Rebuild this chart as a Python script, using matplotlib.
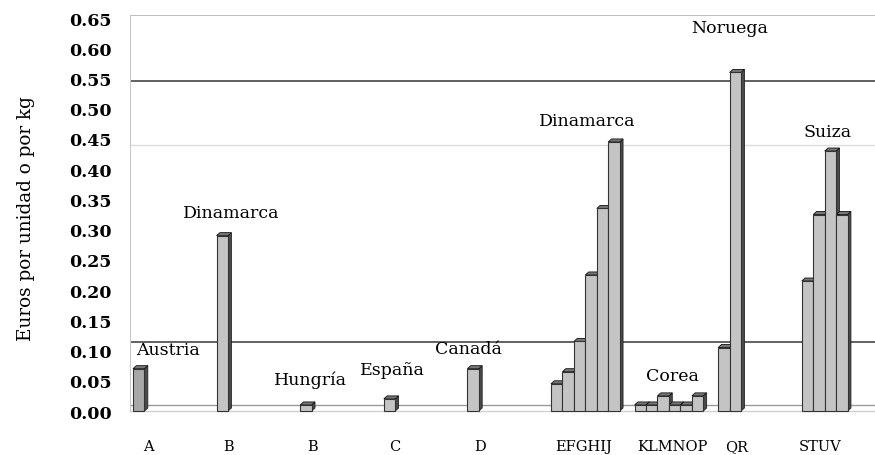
import matplotlib
matplotlib.use("Agg")
import matplotlib.pyplot as plt
from matplotlib.patches import Polygon

# ---- data ----
group_labels = ["A", "B", "B", "C", "D", "EFGHIJ", "KLMNOP", "QR", "STUV"]
countries = ["Austria", "Dinamarca", "Hungría", "España", "Canadá",
             "Dinamarca", "Corea", "Noruega", "Suiza"]
vals_A = [0.07]
vals_B1 = [0.29]
vals_B2 = [0.01]
vals_C = [0.02]
vals_D = [0.07]
vals_EFGHIJ = [0.045, 0.065, 0.115, 0.225, 0.335, 0.445]
vals_KLMNOP = [0.01, 0.01, 0.025, 0.01, 0.01, 0.025]
vals_QR = [0.105, 0.56]
vals_STUV = [0.215, 0.325, 0.43, 0.325]
groups = [vals_A, vals_B1, vals_B2, vals_C, vals_D,
          vals_EFGHIJ, vals_KLMNOP, vals_QR, vals_STUV]
yticks = [0.00, 0.05, 0.10, 0.15, 0.20, 0.25, 0.30, 0.35, 0.40,
          0.45, 0.50, 0.55, 0.60, 0.65]

# ---- layout ----
label_pos = [(0.42, 0.101), (1.17, 0.329), (2.12, 0.053), (3.10, 0.069),
             (4.01, 0.104), (5.43, 0.48), (6.45, 0.058), (7.14, 0.635),
             (8.31, 0.463)]
xtick_pos = [0.18, 1.14, 2.15, 3.13, 4.15, 5.39, 6.45, 7.22, 8.22]
bw = 0.137
dx, dy = 0.04, 0.005

W, H = 875, 456
fig = plt.figure(figsize=(W / 100, H / 100), dpi=100)
ax = fig.add_axes([130 / W, 1 - 418 / H, 745 / W, 402 / H])
ax.set_xlim(-0.036, 8.876)
ax.set_ylim(-0.0099, 0.655)

for s in ["top", "right", "bottom"]:
    ax.spines[s].set_visible(False)
ax.spines["left"].set_color("#c8c8c8")
ax.spines["left"].set_bounds(0, 0.655)

# background lines
ax.axhline(0.655, color="#b0b0b0", lw=1.2, zorder=0)
ax.axhline(0.546, color="#555555", lw=1.3, zorder=0)
ax.axhline(0.44, color="#dcdcdc", lw=1.0, zorder=0)
ax.axhline(0.114, color="#555555", lw=1.3, zorder=0)
ax.axhline(0.01, color="#999999", lw=1.0, zorder=0)
ax.axhline(0.0, color="#d0d0d0", lw=1.0, zorder=0)

for i, vals in enumerate(groups):
    xs = [i + j * bw for j in range(len(vals))]
    face = "#a8a8a8" if i == 0 else "#c4c4c4"
    ax.bar(xs, vals, width=bw, align="edge", color=face,
           edgecolor="#333333", linewidth=0.8, zorder=3)
    for x, h in zip(xs, vals):
        side = Polygon([(x + bw, 0), (x + bw + dx, dy), (x + bw + dx, h + dy), (x + bw, h)],
                       closed=True, facecolor="#4a4a4a", edgecolor="#222222",
                       linewidth=0.6, zorder=2)
        top = Polygon([(x, h), (x + dx, h + dy), (x + bw + dx, h + dy), (x + bw, h)],
                      closed=True, facecolor="#777777", edgecolor="#111111",
                      linewidth=0.6, zorder=2)
        ax.add_patch(side)
        ax.add_patch(top)

for name, (x, y) in zip(countries, label_pos):
    ax.text(x, y, name, ha="center", va="center", fontsize=12.5,
            family="DejaVu Serif", zorder=5)

ax.set_yticks(yticks)
ax.set_yticklabels([f"{v:.2f}" for v in yticks], family="DejaVu Serif",
                   fontweight="bold", fontsize=12.5)
ax.tick_params(axis="y", length=0, pad=13)
ax.set_xticks(xtick_pos)
ax.set_xticklabels(group_labels, family="DejaVu Serif", fontsize=10.5)
ax.tick_params(axis="x", length=0, pad=16)

fig.text(26 / W, 1 - 219 / H, "Euros por unidad o por kg", rotation=90,
         ha="center", va="center", family="DejaVu Serif", fontsize=13.2)

fig.savefig("out.png", dpi=100)
